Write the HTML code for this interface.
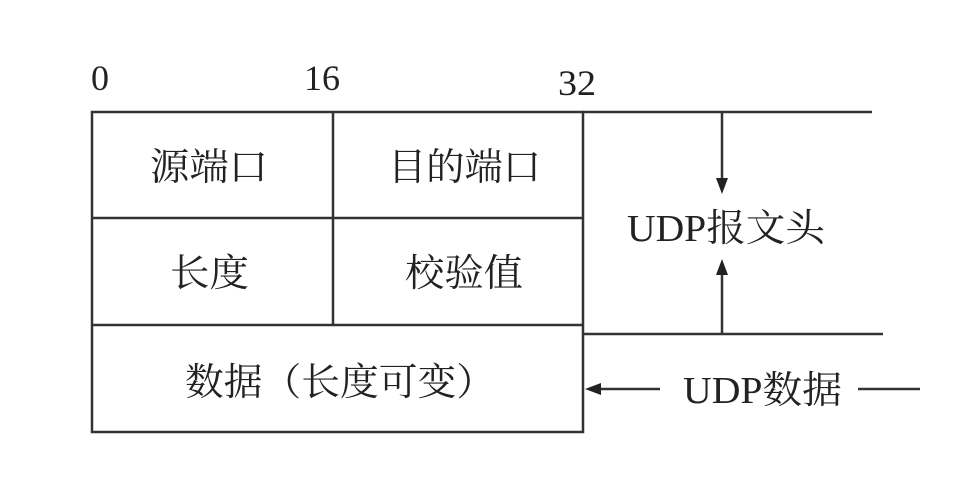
<!DOCTYPE html>
<html><head><meta charset="utf-8"><style>
html,body{margin:0;padding:0;background:#fff;}
svg{display:block;}
text{font-family:"Liberation Serif","Noto Serif CJK SC",serif;fill:#222;font-size:38px;}
</style></head><body>
<svg width="966" height="486" viewBox="0 0 966 486" xmlns="http://www.w3.org/2000/svg">
<g stroke="#333" stroke-width="2.5" fill="none">
<rect x="92" y="112" width="491" height="320"/>
<line x1="92" y1="218" x2="583" y2="218"/>
<line x1="92" y1="325" x2="583" y2="325"/>
<line x1="333" y1="112" x2="333" y2="325"/>
<line x1="583" y1="112" x2="872" y2="112"/>
<line x1="583" y1="334" x2="883" y2="334"/>
<line x1="722" y1="112" x2="722" y2="180"/>
<line x1="722" y1="272" x2="722" y2="334"/>
<line x1="598" y1="389" x2="660" y2="389"/>
<line x1="858" y1="389" x2="920" y2="389"/>
</g>
<g fill="#222">
<polygon points="716,178 728,178 722,194"/>
<polygon points="716,275 728,275 722,259"/>
<polygon points="601,383 601,395 585,389"/>
</g>
<text x="91" y="90" style="font-size:36px">0</text>
<text x="304" y="90" style="font-size:36px" textLength="36" lengthAdjust="spacingAndGlyphs">16</text>
<text x="558" y="95" style="font-size:36px" textLength="38" lengthAdjust="spacingAndGlyphs">32</text>
<text x="150" y="180" textLength="118" lengthAdjust="spacingAndGlyphs">源端口</text>
<text x="388" y="180" textLength="153" lengthAdjust="spacingAndGlyphs">目的端口</text>
<text x="170" y="286" textLength="79" lengthAdjust="spacingAndGlyphs">长度</text>
<text x="405" y="286" textLength="118" lengthAdjust="spacingAndGlyphs">校验值</text>
<text x="185" y="395" textLength="310" lengthAdjust="spacingAndGlyphs">数据（长度可变）</text>
<text x="627" y="241" textLength="198" lengthAdjust="spacingAndGlyphs">UDP报文头</text>
<text x="683" y="403" textLength="159" lengthAdjust="spacingAndGlyphs">UDP数据</text>
</svg>
</body></html>
